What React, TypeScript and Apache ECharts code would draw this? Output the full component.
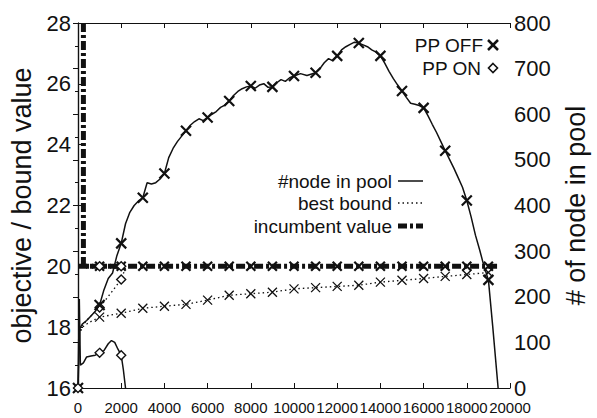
import React, { useEffect, useRef } from "react";
import * as echarts from "echarts";

// ---- axes ----
const xRange = { min: 0, max: 20000, interval: 2000 };
const leftRange = { min: 16, max: 28, interval: 2 };
const rightRange = { min: 0, max: 800, interval: 100 };
const leftTitle = "objective / bound value";
const rightTitle = "# of node in pool";

// ---- data: [iteration, value] ----
const nodePoolOff: [number, number][] = [
  [0, 0], [80, 130], [200, 140], [400, 148], [600, 158], [800, 168], [1000, 182],
  [1200, 215], [1400, 240], [1600, 252], [1800, 290], [2000, 317], [2200, 360],
  [2400, 385], [2600, 400], [2800, 410], [3000, 417], [3200, 450], [3400, 447],
  [3600, 450], [3800, 458], [4000, 470], [4200, 505], [4400, 525], [4600, 540],
  [4800, 552], [5000, 564], [5200, 576], [5400, 584], [5600, 590], [5800, 586],
  [6000, 593], [6200, 600], [6400, 606], [6600, 615], [6800, 620], [7000, 629],
  [7200, 641], [7400, 650], [7600, 656], [7800, 660], [8000, 662], [8200, 657],
  [8400, 664], [8600, 667], [8800, 659], [9000, 660], [9200, 669], [9400, 676],
  [9600, 672], [9800, 680], [10000, 684], [10300, 689], [10600, 685], [11000, 691],
  [11200, 700], [11400, 713], [11600, 722], [11800, 717], [12000, 728], [12200, 741],
  [12400, 748], [12600, 753], [12800, 758], [13000, 756], [13200, 752], [13400, 748],
  [13600, 741], [13800, 736], [14000, 728], [14200, 712], [14400, 694], [14600, 678],
  [14800, 664], [15000, 651], [15200, 637], [15400, 624], [15600, 622], [15800, 619],
  [16000, 614], [16200, 597], [16400, 578], [16600, 560], [16800, 540], [17000, 520],
  [17200, 501], [17400, 482], [17600, 461], [17800, 440], [18000, 411], [18200, 375],
  [18400, 335], [18600, 302], [18800, 266], [19000, 237], [19200, 135], [19450, 0],
];
const nodePoolOn: [number, number][] = [
  [0, 0], [60, 195], [110, 50], [250, 55], [400, 68], [600, 70], [800, 72],
  [1000, 77], [1200, 82], [1400, 97], [1550, 104], [1700, 100], [1850, 85],
  [2000, 72], [2100, 40], [2200, 0],
];
const boundOff: [number, number][] = [
  [40, 17.75], [200, 18.0], [500, 18.15], [1000, 18.33], [2000, 18.46], [3000, 18.62],
  [4000, 18.69], [5000, 18.75], [6000, 18.89], [7000, 19.05], [8000, 19.1],
  [9000, 19.15], [10000, 19.26], [11000, 19.3], [12000, 19.34], [13000, 19.38],
  [14000, 19.48], [15000, 19.54], [16000, 19.6], [17000, 19.67], [18000, 19.73],
  [19000, 19.8],
];
const boundOn: [number, number][] = [
  [40, 17.75], [200, 18.05], [500, 18.3], [1000, 18.65], [1500, 19.1], [2000, 19.57],
  [2200, 19.95],
];
const incumbentOff: [number, number][] = [
  [250, 28], [250, 20], [1000, 20], [2000, 20], [3000, 20], [4000, 20], [5000, 20],
  [6000, 20], [7000, 20], [8000, 20], [9000, 20], [10000, 20], [11000, 20], [12000, 20],
  [13000, 20], [14000, 20], [15000, 20], [16000, 20], [17000, 20], [18000, 20],
  [19000, 20], [19450, 20],
];
const incumbentOn: [number, number][] = [
  [0, 20], [1000, 20], [2000, 20], [2200, 20],
];

const FONT = '"Liberation Sans", Arial, Helvetica, sans-serif';
const INK = "#111";
const CROSS = "path://M0,0L10,10M10,0L0,10";

function marked(
  pts: [number, number][],
  symbol: string,
  keep: (x: number) => boolean
) {
  return pts.map(([x, y]) => ({
    value: [x, y],
    symbol: keep(x) ? symbol : "none",
  }));
}
const everyThousand = (x: number) => x > 0 && x % 1000 === 0;
const nodeMarks = (x: number) => x % 1000 === 0;

export default function App() {
  const ref = useRef<HTMLDivElement>(null);
  useEffect(() => {
    if (!ref.current) return;
    const chart = echarts.init(ref.current, undefined, { renderer: "svg" });

    const crossStyle = (w: number) => ({ color: INK, borderColor: INK, borderWidth: w });
    const diamondStyle = { color: "#fff", borderColor: INK, borderWidth: 1.4 };

    const option: any = {
      animation: false,
      backgroundColor: "#fff",
      grid: { left: 78, right: 85, top: 23, bottom: 30 },
      xAxis: [
        {
          type: "value",
          position: "bottom",
          min: xRange.min,
          max: xRange.max,
          interval: xRange.interval,
          axisLine: { lineStyle: { color: INK, width: 1.2 } },
          axisTick: { inside: true, length: 5, lineStyle: { color: INK } },
          axisLabel: {
            color: INK,
            fontFamily: FONT,
            fontSize: 15,
            lineHeight: 15,
            margin: 12,
            hideOverlap: false,
            showMinLabel: true,
            showMaxLabel: true,
            formatter: (v: number) => String(v),
          },
          splitLine: { show: false },
        },
        {
          type: "value",
          position: "top",
          min: xRange.min,
          max: xRange.max,
          interval: xRange.interval,
          axisLine: { lineStyle: { color: INK, width: 1.2 } },
          axisTick: { inside: true, length: 5, lineStyle: { color: INK } },
          axisLabel: { show: false },
          splitLine: { show: false },
        },
      ],
      yAxis: [
        {
          type: "value",
          position: "left",
          min: leftRange.min,
          max: leftRange.max,
          interval: leftRange.interval,
          name: leftTitle,
          nameLocation: "middle",
          nameRotate: 90,
          nameGap: 42,
          nameTextStyle: { color: INK, fontFamily: FONT, fontSize: 27 },
          axisLine: { show: true, lineStyle: { color: INK, width: 1.2 } },
          axisTick: { show: true, inside: true, length: 5, lineStyle: { color: INK } },
          axisLabel: { color: INK, fontFamily: FONT, fontSize: 22, margin: 7 },
          splitLine: { show: false },
        },
        {
          type: "value",
          position: "right",
          min: rightRange.min,
          max: rightRange.max,
          interval: rightRange.interval,
          name: rightTitle,
          nameLocation: "middle",
          nameRotate: 90,
          nameGap: 52,
          nameTextStyle: { color: INK, fontFamily: FONT, fontSize: 27 },
          axisLine: { show: true, lineStyle: { color: INK, width: 1.2 } },
          axisTick: { show: true, inside: true, length: 5, lineStyle: { color: INK } },
          minorTick: { show: true, splitNumber: 2, length: 3, lineStyle: { color: INK } },
          axisLabel: { color: INK, fontFamily: FONT, fontSize: 22, lineHeight: 20, margin: 4 },
          splitLine: { show: false },
        },
      ],
      series: [
        {
          name: "incumbent value (PP OFF)",
          type: "line",
          yAxisIndex: 0,
          data: marked(incumbentOff, CROSS, everyThousand),
          symbolSize: 9,
          showAllSymbol: true,
          itemStyle: crossStyle(2.2),
          lineStyle: { color: INK, width: 5, type: [9, 3, 3, 3] },
          z: 2,
        },
        {
          name: "incumbent value (PP ON)",
          type: "line",
          yAxisIndex: 0,
          data: marked(incumbentOn, "diamond", everyThousand),
          symbolSize: 9,
          showAllSymbol: true,
          itemStyle: diamondStyle,
          lineStyle: { color: INK, width: 5, type: [9, 3, 3, 3] },
          z: 2,
        },
        {
          name: "best bound (PP OFF)",
          type: "line",
          yAxisIndex: 0,
          data: marked(boundOff, CROSS, everyThousand),
          symbolSize: 9,
          showAllSymbol: true,
          itemStyle: crossStyle(1.3),
          lineStyle: { color: INK, width: 1.3, type: [1.5, 3] },
          z: 3,
        },
        {
          name: "best bound (PP ON)",
          type: "line",
          yAxisIndex: 0,
          data: marked(boundOn, "diamond", everyThousand),
          symbolSize: 9,
          showAllSymbol: true,
          itemStyle: diamondStyle,
          lineStyle: { color: INK, width: 1.3, type: [1.5, 3] },
          z: 3,
        },
        {
          name: "#node in pool (PP OFF)",
          type: "line",
          yAxisIndex: 1,
          data: marked(nodePoolOff, CROSS, nodeMarks),
          symbolSize: 10,
          showAllSymbol: true,
          itemStyle: crossStyle(2.2),
          lineStyle: { color: INK, width: 1.5 },
          z: 4,
        },
        {
          name: "#node in pool (PP ON)",
          type: "line",
          yAxisIndex: 1,
          data: marked(nodePoolOn, "diamond", nodeMarks),
          symbolSize: 9,
          showAllSymbol: true,
          itemStyle: diamondStyle,
          lineStyle: { color: INK, width: 1.5 },
          z: 4,
        },
      ],
      graphic: [
        // marker legend
        { type: "text", x: 483, y: 45, style: { text: "PP OFF", align: "right", verticalAlign: "middle", fontFamily: FONT, fontSize: 19, fill: INK } },
        { type: "line", shape: { x1: 488, y1: 40, x2: 498, y2: 50 }, style: { stroke: INK, lineWidth: 2.5 } },
        { type: "line", shape: { x1: 498, y1: 40, x2: 488, y2: 50 }, style: { stroke: INK, lineWidth: 2.5 } },
        { type: "text", x: 481, y: 68, style: { text: "PP ON", align: "right", verticalAlign: "middle", fontFamily: FONT, fontSize: 19, fill: INK } },
        { type: "polygon", shape: { points: [[493, 63.5], [497.5, 68], [493, 72.5], [488.5, 68]] }, style: { fill: "#fff", stroke: INK, lineWidth: 1.6 } },
        // line legend
        { type: "text", x: 392, y: 181, style: { text: "#node in pool", align: "right", verticalAlign: "middle", fontFamily: FONT, fontSize: 19, fill: INK } },
        { type: "line", shape: { x1: 398, y1: 181, x2: 423, y2: 181 }, style: { stroke: INK, lineWidth: 1.5 } },
        { type: "text", x: 392, y: 203, style: { text: "best bound", align: "right", verticalAlign: "middle", fontFamily: FONT, fontSize: 19, fill: INK } },
        { type: "line", shape: { x1: 398, y1: 203, x2: 423, y2: 203 }, style: { stroke: INK, lineWidth: 1.3, lineDash: [1.5, 3] } },
        { type: "text", x: 392, y: 226, style: { text: "incumbent value", align: "right", verticalAlign: "middle", fontFamily: FONT, fontSize: 19, fill: INK } },
        { type: "line", shape: { x1: 398, y1: 226, x2: 423, y2: 226 }, style: { stroke: INK, lineWidth: 5, lineDash: [9, 3, 3, 3] } },
      ],
    };
    chart.setOption(option);
    return () => chart.dispose();
  }, []);
  return (
    <div
      ref={ref}
      style={{ position: "fixed", left: 0, top: 0, width: 597, height: 418, background: "#fff" }}
    />
  );
}
